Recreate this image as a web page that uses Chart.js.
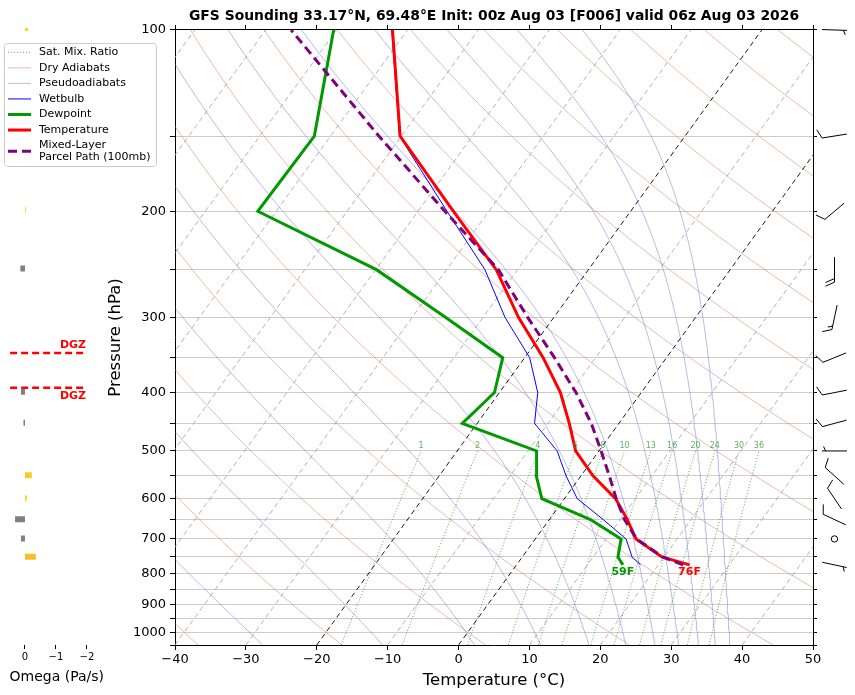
<!DOCTYPE html>
<html>
<head>
<meta charset="utf-8">
<script src="https://cdn.jsdelivr.net/npm/chart.js@4.4.1/dist/chart.umd.min.js"></script>
<style>
  html, body { margin: 0; padding: 0; background: #fff; }
  #wrap { position: relative; width: 855px; height: 695px; }
  #omega, #skewt { position: absolute; left: 0; top: 0; }
</style>
</head>
<body>
<div id="wrap">
  <canvas id="omega" width="130" height="695" style="width:130px;height:695px"></canvas>
  <canvas id="skewt" width="855" height="695" style="width:855px;height:695px"></canvas>
</div>
<script>
// sounding levels (hPa) and profiles (°C)
const levels      = [773, 750, 700, 650, 600, 550, 500, 450, 400, 350, 300, 250, 200, 150, 100];
const temperature = [24.4, 19.7, 14.2, 11.0, 7.2, 1.7, -3.3, -7.0, -11.4, -17.4, -25.0, -33.0, -45.0, -60.2, -72.1];
const dewpoint    = [15.0, 13.5, 12.1, 5.8, -3.2, -6.3, -8.8, -22.1, -20.7, -23.1, -35.3, -49.9, -72.6, -72.3, -80.4];
const wetbulb     = [17.5, 15.5, 12.8, 7.6, 1.8, -2.1, -5.9, -11.9, -14.6, -19.3, -26.9, -34.6, -45.9, -60.3, -72.2];
const parcel      = [23.5, 19.8, 14.3, 10.6, 7.3, 4.0, 0.3, -3.9, -9.2, -15.8, -23.7, -32.7, -46.2, -63.2, -86.4];

// winds (direction from, knots)
const windLevels = [100, 150, 200, 250, 300, 350, 400, 450, 500, 550, 600, 650, 700, 773];
const windDir    = [92, 261, 230, 180, 192, 248, 259, 255, 270, 312, 326, 295, 0, 102];
const windSpeed  = [5, 10, 10, 20, 15, 10, 10, 10, 5, 10, 10, 10, 0, 5];

// omega (Pa/s)
const omegaLevels = [100, 200, 250, 350, 400, 450, 550, 600, 650, 700, 750];
const omegaValues = [-0.10, -0.03, 0.15, 0.03, 0.13, 0.05, -0.22, -0.06, 0.32, 0.13, -0.35];
const omegaTicks  = [0, -1, -2];

// dendritic growth zone (hPa)
const dgzLevels = [345, 394];

// reference lines
const isotherms   = [-120, -110, -100, -90, -80, -70, -60, -50, -40, -30, -20, -10, 0, 10, 20, 30, 40, 50];
const dryThetas   = [-40, -20, 0, 20, 40, 60, 80, 100, 120, 140, 160, 180, 200, 220, 240];
const moistThetaE = [-30, -10, 10, 30, 50, 70, 90, 110, 130, 150, 170];
const mixRatios   = [1, 2, 4, 6, 8, 10, 13, 16, 20, 24, 30, 36];
const pressureTicks = [100, 150, 200, 250, 300, 350, 400, 450, 500, 550, 600, 650, 700, 750, 800, 850, 900, 950, 1000, 1050];
const tempTicks = [-40, -30, -20, -10, 0, 10, 20, 30, 40, 50];

const SKEW = 26.7;
const P_BOT = 1050, P_TOP = 100;
const skewX = (t, p) => t + SKEW * Math.log(P_BOT / p);
const toPts = (ps, ts) => ps.map((p, i) => ({ x: skewX(ts[i], p), y: p }));
const minus = v => (v < 0 ? '\u2212' + Math.abs(v) : String(v));

const bgP = [];
for (let p = 1050; p >= 100; p -= 10) bgP.push(p);

const satVap = tc => 6.112 * Math.exp(17.67 * tc / (tc + 243.5));
function thetaE(tk, p) {
  const es = satVap(tk - 273.15);
  const r = 622 * es / (p - es);
  return tk * Math.pow(1000 / p, 0.2854 * (1 - 0.00028 * r)) *
    Math.exp((3.376 / tk - 0.00254) * r * (1 + 0.00081 * r));
}
function moistT(te, p) {
  let lo = 150, hi = 340;
  for (let i = 0; i < 50; i++) {
    const mid = (lo + hi) / 2;
    if (thetaE(mid, p) > te) hi = mid; else lo = mid;
  }
  return (lo + hi) / 2 - 273.15;
}
function mixT(w, p) {
  const e = p * w / (622 + w);
  const l = Math.log(e / 6.112);
  return 243.5 * l / (17.67 - l);
}

const base = { pointRadius: 0, tension: 0, fill: false, borderCapStyle: 'butt' };
const datasets = [];

datasets.push({ ...base, label: 'Mixed-Layer Parcel Path (100mb)', data: toPts(levels, parcel),
  borderColor: '#800080', borderWidth: 3, borderDash: [9, 5], order: 1, legendRank: 6,
  legendText: ['Mixed-Layer', 'Parcel Path (100mb)'] });
datasets.push({ ...base, label: 'Temperature', data: toPts(levels, temperature),
  borderColor: '#ff0000', borderWidth: 3, order: 2, legendRank: 5, legendText: ['Temperature'] });
datasets.push({ ...base, label: 'Dewpoint', data: toPts(levels, dewpoint),
  borderColor: '#009a00', borderWidth: 3, order: 3, legendRank: 4, legendText: ['Dewpoint'] });
datasets.push({ ...base, label: 'Wetbulb', data: toPts(levels, wetbulb),
  borderColor: '#0000ff', borderWidth: 1, order: 4, legendRank: 3, legendText: ['Wetbulb'] });

isotherms.forEach(t => {
  const dark = t === 0 || t === -20;
  datasets.push({ ...base, label: 'iso ' + t, data: toPts([P_BOT, P_TOP], [t, t]),
    borderColor: dark ? '#000000' : '#a0a0a0', borderWidth: dark ? 0.9 : 0.8,
    borderDash: [5, 3.5], order: 5 });
});
mixRatios.forEach((w, i) => {
  const ps = bgP.filter(p => p >= 500);
  datasets.push({ ...base, label: 'mix ' + w, data: toPts(ps, ps.map(p => mixT(w, p))),
    borderColor: 'rgba(30,140,30,0.75)', borderWidth: 1, borderDash: [1, 2], order: 6,
    legendRank: i === 0 ? 0 : undefined, legendText: i === 0 ? ['Sat. Mix. Ratio'] : undefined });
});
moistThetaE.forEach((te, i) => {
  datasets.push({ ...base, label: 'moist ' + te, data: toPts(bgP, bgP.map(p => moistT(te + 273.15, p))),
    borderColor: 'rgba(110,110,215,0.6)', borderWidth: 0.8, order: 7,
    legendRank: i === 0 ? 2 : undefined, legendText: i === 0 ? ['Pseudoadiabats'] : undefined });
});
dryThetas.forEach((th, i) => {
  datasets.push({ ...base, label: 'dry ' + th,
    data: toPts(bgP, bgP.map(p => (th + 273.15) * Math.pow(p / 1000, 0.2857) - 273.15)),
    borderColor: 'rgba(205,110,110,0.6)', borderWidth: 0.8, order: 8,
    legendRank: i === 0 ? 1 : undefined, legendText: i === 0 ? ['Dry Adiabats'] : undefined });
});

Chart.defaults.font.family = "'DejaVu Sans', sans-serif";
Chart.defaults.color = '#000';

function drawBarb(ctx, cx, cy, dir, spd) {
  if (spd < 2.5) {
    ctx.beginPath(); ctx.arc(cx, cy, 3.2, 0, Math.PI * 2); ctx.stroke();
    return;
  }
  const a = dir * Math.PI / 180;
  const ux = Math.sin(a), uy = -Math.cos(a);
  const px = -uy, py = ux;
  const L = 25, H = 9, sp = 3.6;
  const x0 = cx - ux * L / 2, y0 = cy - uy * L / 2;
  ctx.beginPath(); ctx.moveTo(x0, y0); ctx.lineTo(cx + ux * L / 2, cy + uy * L / 2); ctx.stroke();
  const full = Math.floor(spd / 10);
  const half = spd % 10 >= 5 ? 1 : 0;
  let pos = L;
  if (full === 0 && half) pos -= sp;
  const tick = (d, h) => {
    const bx = x0 + ux * d, by = y0 + uy * d;
    ctx.beginPath(); ctx.moveTo(bx, by);
    ctx.lineTo(bx + px * h + ux * h * 0.45, by + py * h + uy * h * 0.45); ctx.stroke();
  };
  for (let i = 0; i < full; i++) { tick(pos, H); pos -= sp; }
  if (half) tick(pos, H / 2);
}

const decor = {
  id: 'decor',
  afterDraw(chart) {
    const { ctx, chartArea, scales: { x, y } } = chart;
    ctx.save();
    // mixing ratio labels
    ctx.font = "8px 'DejaVu Sans'";
    ctx.fillStyle = 'rgba(40,150,40,0.75)';
    ctx.textAlign = 'center';
    ctx.textBaseline = 'bottom';
    mixRatios.forEach(w => {
      ctx.fillText(String(w), x.getPixelForValue(skewX(mixT(w, 500), 500)), y.getPixelForValue(500) - 1);
    });
    // surface values in °F
    const sp = levels[0];
    ctx.font = "bold 11px 'DejaVu Sans'";
    ctx.textBaseline = 'top';
    ctx.fillStyle = '#009a00';
    ctx.fillText(Math.round(dewpoint[0] * 9 / 5 + 32) + 'F', x.getPixelForValue(skewX(dewpoint[0], sp)), y.getPixelForValue(sp) + 2);
    ctx.fillStyle = '#ff0000';
    ctx.fillText(Math.round(temperature[0] * 9 / 5 + 32) + 'F', x.getPixelForValue(skewX(temperature[0], sp)), y.getPixelForValue(sp) + 2);
    // wind barbs
    ctx.strokeStyle = '#000'; ctx.lineWidth = 1;
    const bx = chartArea.right + 21.5;
    windLevels.forEach((p, i) => drawBarb(ctx, bx, y.getPixelForValue(p), windDir[i], windSpeed[i]));
    // legend
    ctx.globalAlpha = 0.8;
    ctx.fillStyle = '#fff';
    ctx.beginPath(); ctx.roundRect(4.5, 43.5, 152, 123, 3); ctx.fill();
    ctx.globalAlpha = 1;
    ctx.strokeStyle = '#cccccc'; ctx.stroke();
    const items = chart.data.datasets.filter(d => d.legendRank !== undefined)
      .sort((a, b) => a.legendRank - b.legendRank);
    ctx.font = "11px 'DejaVu Sans'";
    ctx.textAlign = 'left'; ctx.textBaseline = 'middle'; ctx.fillStyle = '#000';
    let yy = 52.3;
    items.forEach(d => {
      const n = d.legendText.length;
      const mid = yy + (n - 1) * 5.7;
      ctx.save();
      ctx.strokeStyle = d.borderColor; ctx.lineWidth = d.borderWidth;
      ctx.setLineDash(d.borderDash || []);
      ctx.beginPath(); ctx.moveTo(8, mid); ctx.lineTo(31, mid); ctx.stroke();
      ctx.restore();
      d.legendText.forEach((t, k) => ctx.fillText(t, 39, yy + k * 11.4));
      yy += 15.55 + (n - 1) * 11.4;
    });
    ctx.restore();
  }
};

new Chart(document.getElementById('skewt'), {
  type: 'line',
  data: { datasets },
  options: {
    responsive: false, animation: false, events: [],
    layout: { padding: { left: 106.1, right: 37, top: 2, bottom: 4.1 } },
    plugins: {
      legend: { display: false }, tooltip: { enabled: false },
      title: { display: true, fullSize: false, color: '#000',
        text: 'GFS Sounding 33.17\u00b0N, 69.48\u00b0E Init: 00z Aug 03 [F006] valid 06z Aug 03 2026',
        font: { size: 13.9, weight: 'bold' }, padding: { top: 6, bottom: 0 } }
    },
    scales: {
      x: { type: 'linear', position: 'bottom', min: -40, max: 50,
        afterBuildTicks: s => { s.ticks = tempTicks.map(v => ({ value: v })); },
        ticks: { callback: v => minus(v), font: { size: 13 }, color: '#000', padding: 2, maxRotation: 0, autoSkip: false },
        grid: { drawOnChartArea: false, tickColor: '#000', tickLength: 5 },
        border: { color: '#000', width: 1 },
        title: { display: true, text: 'Temperature (\u00b0C)', font: { size: 16.5 }, padding: 0, color: '#000' },
        afterFit: s => { s.height = 45.9; } },
      x2: { type: 'linear', position: 'top', min: -40, max: 50,
        afterBuildTicks: s => { s.ticks = tempTicks.map(v => ({ value: v })); },
        ticks: { display: false },
        grid: { drawOnChartArea: false, tickColor: '#000', tickLength: 5 },
        border: { color: '#000', width: 1 },
        afterFit: s => { s.height = 5.3; } },
      y: { type: 'logarithmic', position: 'left', reverse: true, min: P_TOP, max: P_BOT,
        afterBuildTicks: s => { s.ticks = pressureTicks.map(v => ({ value: v })); },
        ticks: { callback: v => (v % 100 === 0 && v <= 1000 ? String(v) : ''), font: { size: 13 }, color: '#000', padding: 4, autoSkip: false },
        grid: { color: '#cccccc', lineWidth: 1, tickColor: '#000', tickLength: 5 },
        border: { color: '#000', width: 1 },
        title: { display: true, text: 'Pressure (hPa)', font: { size: 16.5 }, padding: 0, color: '#000' },
        afterFit: s => { s.width = 68.9; } },
      y2: { type: 'logarithmic', position: 'right', reverse: true, min: P_TOP, max: P_BOT,
        afterBuildTicks: s => { s.ticks = pressureTicks.map(v => ({ value: v })); },
        ticks: { display: false },
        grid: { drawOnChartArea: false, tickColor: '#000', tickLength: 4 },
        border: { color: '#000', width: 1 },
        afterFit: s => { s.width = 5; } }
    }
  },
  plugins: [decor]
});

// omega panel
function omegaColor(v) {
  if (v >= 0) return '#808080';
  const f = Math.min(1, -v / 0.4);
  const c0 = [240, 228, 30], c1 = [252, 182, 48];
  return 'rgb(' + c0.map((c, i) => Math.round(c + (c1[i] - c) * f)).join(',') + ')';
}
const omegaSets = omegaLevels.map((p, i) => ({ ...base, label: 'omega ' + p,
  data: [{ x: 0, y: p }, { x: omegaValues[i], y: p }],
  borderColor: omegaColor(omegaValues[i]), borderWidth: 6 }));
const dgzSpan = [0.48, -1.97];
dgzLevels.forEach(p => omegaSets.push({ ...base, label: 'DGZ ' + p,
  data: dgzSpan.map(v => ({ x: v, y: p })),
  borderColor: '#ff0000', borderWidth: 2.6, borderDash: [7, 4] }));

const dgzText = {
  id: 'dgzText',
  afterDatasetsDraw(chart) {
    const { ctx, scales: { x, y } } = chart;
    ctx.save();
    ctx.font = "bold 11px 'DejaVu Sans'";
    ctx.fillStyle = '#ff0000';
    ctx.textAlign = 'right';
    const xr = x.getPixelForValue(dgzSpan[1]);
    ctx.textBaseline = 'bottom';
    ctx.fillText('DGZ', xr, y.getPixelForValue(dgzLevels[0]) - 2);
    ctx.textBaseline = 'top';
    ctx.fillText('DGZ', xr, y.getPixelForValue(dgzLevels[1]) + 3);
    ctx.restore();
  }
};

new Chart(document.getElementById('omega'), {
  type: 'line',
  data: { datasets: omegaSets },
  options: {
    responsive: false, animation: false, events: [],
    layout: { padding: { left: 9.5, right: 26, top: 28, bottom: 9 } },
    plugins: { legend: { display: false }, tooltip: { enabled: false } },
    scales: {
      x: { type: 'linear', min: -2.55, max: 0.5, reverse: true,
        afterBuildTicks: s => { s.ticks = omegaTicks.map(v => ({ value: v })); },
        ticks: { callback: v => minus(v), font: { size: 10 }, color: '#000', padding: 2, autoSkip: false },
        grid: { drawOnChartArea: false, tickColor: '#000', tickLength: 4 },
        border: { display: false },
        title: { display: true, text: 'Omega (Pa/s)', font: { size: 14 }, padding: 0, color: '#000' },
        afterFit: s => { s.height = 41; } },
      y: { type: 'logarithmic', min: P_TOP, max: P_BOT, reverse: true, display: false }
    }
  },
  plugins: [dgzText]
});
</script>
</body>
</html>
